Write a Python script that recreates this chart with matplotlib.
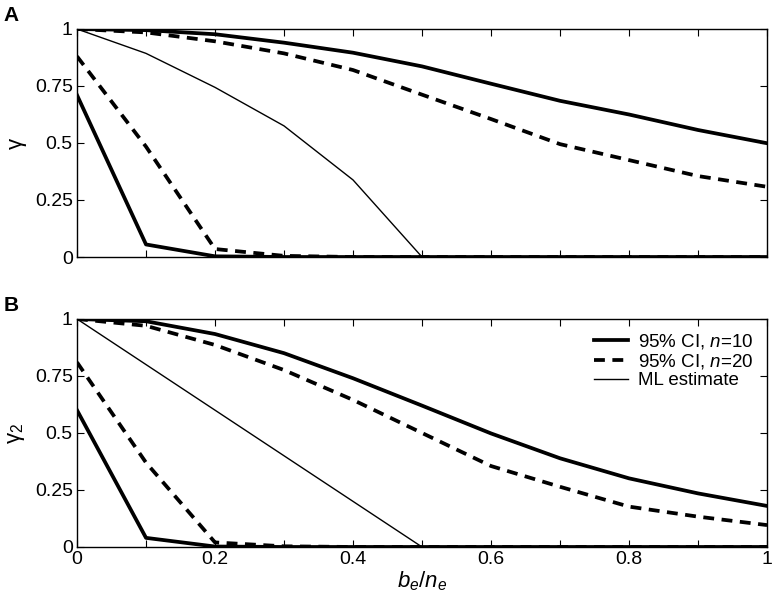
import matplotlib
matplotlib.use("Agg")
import matplotlib.pyplot as plt
import numpy as np

plt.rcParams['font.family'] = ['Liberation Sans', 'DejaVu Sans']
plt.rcParams['mathtext.fontset'] = 'custom'
plt.rcParams['mathtext.rm'] = 'Liberation Sans'
plt.rcParams['mathtext.it'] = 'Liberation Sans:italic'
plt.rcParams['mathtext.bf'] = 'Liberation Sans:bold'

x = [0, 0.1, 0.2, 0.3, 0.4, 0.5, 0.6, 0.7, 0.8, 0.9, 1.0]

# Panel A
a_up10 = [1.0, 0.995, 0.977, 0.94, 0.896, 0.836, 0.76, 0.685, 0.625, 0.557, 0.499]
a_up20 = [1.0, 0.985, 0.946, 0.893, 0.82, 0.712, 0.605, 0.495, 0.425, 0.355, 0.308]
a_lo10 = [0.71, 0.055, 0.003, 0, 0, 0, 0, 0, 0, 0, 0]
a_lo20 = [0.88, 0.484, 0.035, 0.005, 0, 0, 0, 0, 0, 0, 0]
a_ml = [1.0, 0.893, 0.744, 0.575, 0.338, 0, 0, 0, 0, 0, 0]

# Panel B
b_up10 = [1.0, 0.99, 0.934, 0.85, 0.74, 0.62, 0.498, 0.389, 0.301, 0.235, 0.18]
b_up20 = [1.0, 0.97, 0.886, 0.776, 0.645, 0.5, 0.355, 0.264, 0.177, 0.133, 0.096]
b_lo10 = [0.6, 0.04, 0.002, 0, 0, 0, 0, 0, 0, 0, 0]
b_lo20 = [0.81, 0.37, 0.02, 0.003, 0, 0, 0, 0, 0, 0, 0]
b_ml = [1.0, 0.8, 0.6, 0.4, 0.2, 0, 0, 0, 0, 0, 0]

yticks = [0, 0.25, 0.5, 0.75, 1]
ytick_labels = ['0', '0.25', '0.5', '0.75', '1']
xticks = [0, 0.1, 0.2, 0.3, 0.4, 0.5, 0.6, 0.7, 0.8, 0.9, 1.0]
xtick_labels = ['0', '', '0.2', '', '0.4', '', '0.6', '', '0.8', '', '1']

fig = plt.figure(figsize=(7.74, 6.04), dpi=100)
axA = fig.add_axes([0.0995, 0.5745, 0.8915, 0.3775])
axB = fig.add_axes([0.0995, 0.0944, 0.8915, 0.3775])

thick = 2.7
thin = 1.0
dash = (2.9, 2.0)

def draw(ax, up10, up20, lo10, lo20, ml):
    l1, = ax.plot(x, up10, color='black', lw=thick, solid_joinstyle='round')
    ax.plot(x, lo10, color='black', lw=thick, solid_joinstyle='round')
    l2, = ax.plot(x, up20, color='black', lw=thick, dashes=dash, dash_capstyle='butt')
    ax.plot(x, lo20, color='black', lw=thick, dashes=dash, dash_capstyle='butt')
    l3, = ax.plot(x, ml, color='black', lw=thin)
    ax.set_xlim(0, 1)
    ax.set_ylim(0, 1)
    ax.set_yticks(yticks)
    ax.set_yticklabels(ytick_labels)
    ax.set_xticks(xticks)
    ax.tick_params(direction='in', length=5, width=0.8, top=True, right=True,
                   labelsize=14, pad=3)
    for s in ax.spines.values():
        s.set_linewidth(1.0)
    return l1, l2, l3

draw(axA, a_up10, a_up20, a_lo10, a_lo20, a_ml)
axA.set_xticklabels([])
h = draw(axB, b_up10, b_up20, b_lo10, b_lo20, b_ml)
axB.set_xticklabels(xtick_labels)

axA.set_ylabel('γ', fontsize=16, labelpad=6)
axB.set_ylabel('γ$_2$', fontsize=16, labelpad=6)
axB.set_xlabel('$b_e/n_e$', fontsize=16, labelpad=1)

fig.text(0.005, 0.965, 'A', fontsize=15, fontweight='bold')
fig.text(0.005, 0.485, 'B', fontsize=15, fontweight='bold')

axB.legend(h, ['95% CI, $n$=10', '95% CI, $n$=20', 'ML estimate'],
           loc='upper right', frameon=False, fontsize=13.5, handlelength=1.8,
           handletextpad=0.55, labelspacing=0.05, borderaxespad=0.3)

fig.savefig('out.png', dpi=100)
